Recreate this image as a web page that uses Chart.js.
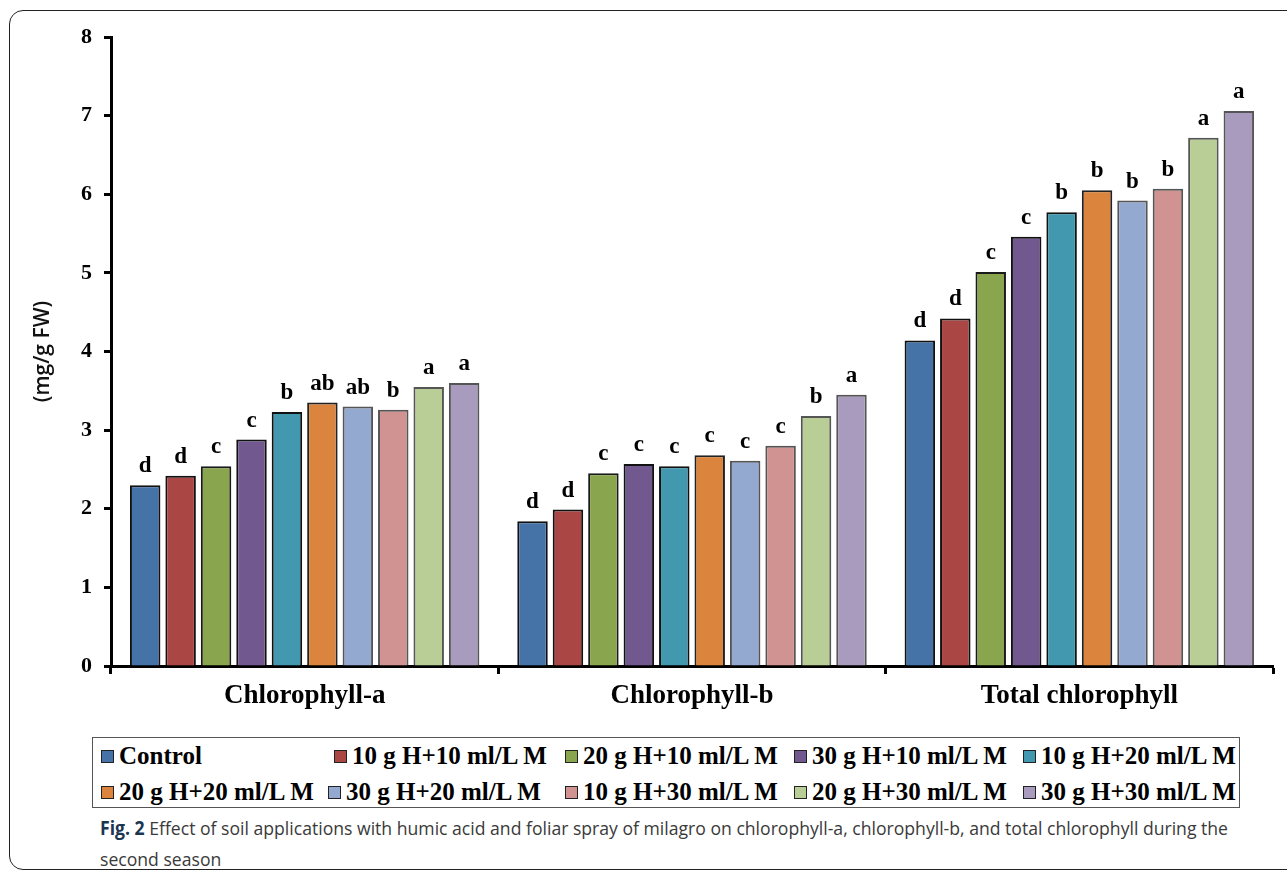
<!DOCTYPE html>
<html>
<head>
<meta charset="utf-8">
<script src="https://cdn.jsdelivr.net/npm/chart.js@4.4.1/dist/chart.umd.min.js"></script>
<style>
  html, body { margin: 0; padding: 0; background: #fff; }
  body { width: 1287px; height: 881px; position: relative; overflow: hidden; }
  #frame { position: absolute; left: 9px; top: 10px; width: 1300px; height: 860px;
           border: 1.5px solid #222; border-radius: 14px; box-sizing: border-box; }
  #wrap { position: absolute; left: 0; top: 0; width: 1287px; height: 720px; }
  #legend { position: absolute; left: 92px; top: 737px; width: 1148px; height: 71px;
            border: 1.5px solid #555; box-sizing: border-box; background: #fff; }
  .li { position: absolute; white-space: nowrap; font-family: "Liberation Serif", "Times New Roman", serif;
        font-weight: bold; font-size: 25px; color: #000; line-height: 30px; }
  .lb { display: inline-block; width: 11px; height: 11px; border: 1.5px solid #222; margin-right: 5px;
        vertical-align: 1px; }
  #caption { position: absolute; left: 100px; top: 813px; font-family: "Open Sans", "Noto Sans", sans-serif;
             font-size: 19px; color: #3a3a3a; line-height: 31px; transform-origin: 0 0; white-space: nowrap; }
  #caption b { color: #1c3550; font-weight: 700; }
</style>
</head>
<body>
<div id="frame"></div>
<div id="wrap"><canvas id="c" width="1287" height="720"></canvas></div>
<div id="legend"></div>
<div id="caption"><span id="cl1"><b>Fig. 2</b> Effect of soil applications with humic acid and foliar spray of milagro on chlorophyll-a, chlorophyll-b, and total chlorophyll during the</span><br>second season</div>
<script>
// ---- data ----
const categories = ['Chlorophyll-a', 'Chlorophyll-b', 'Total chlorophyll'];
const seriesNames = ['Control', '10 g H+10 ml/L M', '20 g H+10 ml/L M', '30 g H+10 ml/L M', '10 g H+20 ml/L M',
                     '20 g H+20 ml/L M', '30 g H+20 ml/L M', '10 g H+30 ml/L M', '20 g H+30 ml/L M', '30 g H+30 ml/L M'];
const s_control = [2.30, 1.84, 4.14];
const s_10g10   = [2.42, 1.99, 4.42];
const s_20g10   = [2.54, 2.45, 5.01];
const s_30g10   = [2.88, 2.57, 5.46];
const s_10g20   = [3.23, 2.54, 5.77];
const s_20g20   = [3.35, 2.68, 6.05];
const s_30g20   = [3.30, 2.61, 5.92];
const s_10g30   = [3.26, 2.80, 6.07];
const s_20g30   = [3.55, 3.18, 6.72];
const s_30g30   = [3.60, 3.45, 7.06];
const l_control = ['d', 'd', 'd'];
const l_10g10   = ['d', 'd', 'd'];
const l_20g10   = ['c', 'c', 'c'];
const l_30g10   = ['c', 'c', 'c'];
const l_10g20   = ['b', 'c', 'b'];
const l_20g20   = ['ab', 'c', 'b'];
const l_30g20   = ['ab', 'c', 'b'];
const l_10g30   = ['b', 'c', 'b'];
const l_20g30   = ['a', 'b', 'a'];
const l_30g30   = ['a', 'a', 'a'];
const yTicks = [0, 1, 2, 3, 4, 5, 6, 7, 8];

// ---- styles ----
const seriesValues = [s_control, s_10g10, s_20g10, s_30g10, s_10g20, s_20g20, s_30g20, s_10g30, s_20g30, s_30g30];
const seriesLetters = [l_control, l_10g10, l_20g10, l_30g10, l_10g20, l_20g20, l_30g20, l_10g30, l_20g30, l_30g30];
const fills = ['#4572A7', '#AA4643', '#89A54E', '#71588F', '#4198AF', '#DB843D', '#93A9CF', '#D19392', '#B9CD96', '#A99BBD'];
const edges = ['#111', '#111', '#1a1a1a', '#111', '#111', '#222', '#555', '#555', '#555', '#555'];
const serif = '"Liberation Serif", "Times New Roman", serif';

const datasets = seriesNames.map((n, i) => ({
  label: n, data: seriesValues[i], letters: seriesLetters[i],
  backgroundColor: fills[i], borderColor: edges[i], borderWidth: 2, borderSkipped: 'start',
  categoryPercentage: 0.915, barPercentage: 0.86
}));

const letterPlugin = {
  id: 'letters',
  afterDatasetsDraw(chart) {
    const ctx = chart.ctx;
    ctx.save();
    ctx.font = 'bold 23px ' + serif;
    ctx.fillStyle = '#000';
    ctx.textAlign = 'center';
    ctx.textBaseline = 'alphabetic';
    chart.data.datasets.forEach((ds, i) => {
      chart.getDatasetMeta(i).data.forEach((el, j) => {
        ctx.fillText(ds.letters[j], el.x, el.y - 13);
      });
    });
    ctx.restore();
  }
};

new Chart(document.getElementById('c'), {
  type: 'bar',
  data: { labels: categories, datasets },
  options: {
    responsive: false, animation: false,
    layout: { padding: { left: 0, right: 14, top: 37, bottom: 0 } },
    plugins: { legend: { display: false }, tooltip: { enabled: false } },
    scales: {
      x: {
        grid: { display: true, offset: true, drawOnChartArea: false, drawTicks: true, tickLength: 8,
                tickColor: '#000', tickWidth: 3 },
        border: { display: true, color: '#000', width: 3 },
        ticks: { color: '#000', font: { family: serif, size: 27, weight: 'bold' }, padding: 6, maxRotation: 0 },
        afterFit(s) { s.height = 54; }
      },
      y: {
        min: 0, max: 8,
        afterBuildTicks(s) { s.ticks = yTicks.map(v => ({ value: v })); },
        grid: { display: true, drawOnChartArea: false, drawTicks: true, tickLength: 7, tickColor: '#000', tickWidth: 3 },
        border: { display: true, color: '#000', width: 3 },
        ticks: { color: '#000', font: { family: serif, size: 22, weight: 'bold' }, padding: 12 },
        title: { display: true, text: '(mg/g FW)', color: '#111',
                 font: { family: '"Open Sans", "Noto Sans", sans-serif', size: 21, weight: '600' },
                 padding: { top: 30, bottom: 0 } },
        afterFit(s) { s.width = 111; }
      }
    }
  },
  plugins: [letterPlugin]
});

// ---- legend (HTML) ----
const legendPos = [[8, 0], [241, 0], [472, 0], [701, 0], [930, 0],
                   [8, 36], [235, 36], [472, 36], [701, 36], [930, 36]];
const leg = document.getElementById('legend');
seriesNames.forEach((n, i) => {
  const d = document.createElement('div');
  d.className = 'li';
  d.style.left = legendPos[i][0] + 'px';
  d.style.top = (3 + legendPos[i][1]) + 'px';
  d.innerHTML = '<span class="lb" style="background:' + fills[i] + '"></span>' + n;
  leg.appendChild(d);
});

// ---- caption width fit ----
const cl1 = document.getElementById('cl1');
const w = cl1.getBoundingClientRect().width;
document.getElementById('caption').style.transform = 'scaleX(' + (1128 / w) + ')';
</script>
</body>
</html>
